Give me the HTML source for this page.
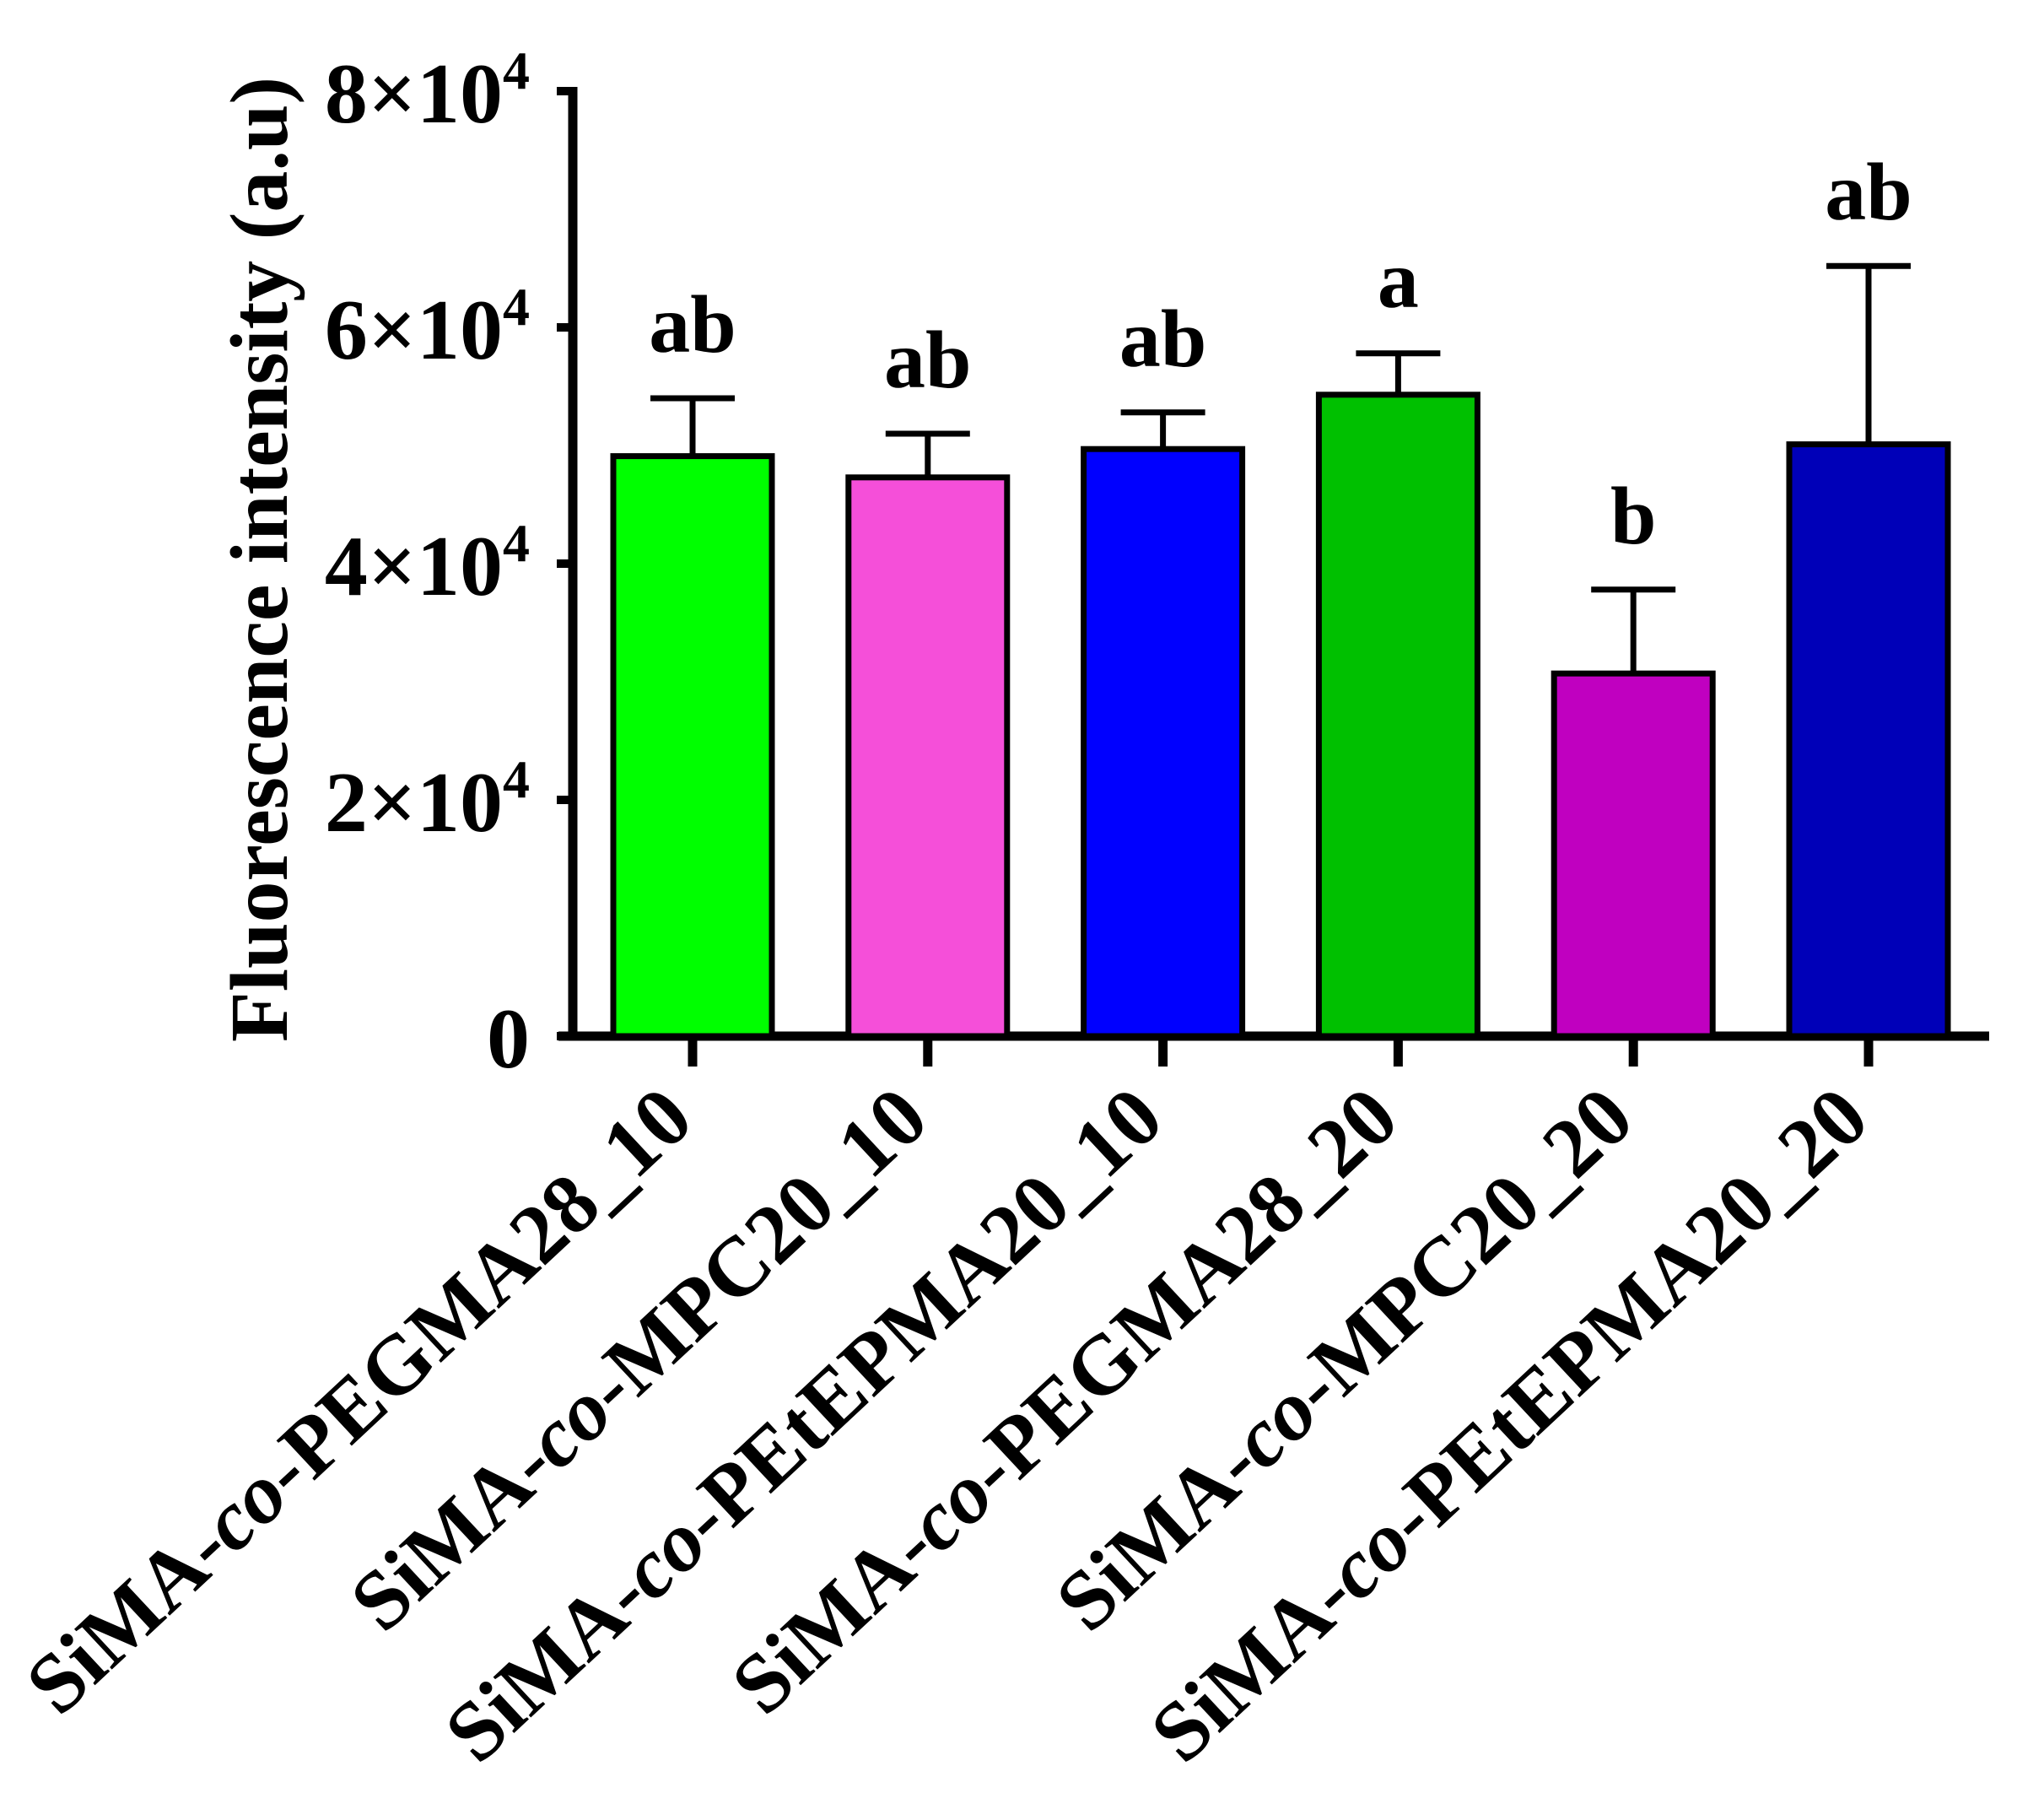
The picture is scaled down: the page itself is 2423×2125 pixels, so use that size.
<!DOCTYPE html>
<html><head><meta charset="utf-8"><style>
html,body{margin:0;padding:0;background:#fff}
svg{display:block}
text{font-family:"Liberation Serif","Times New Roman",serif;font-weight:bold;fill:#000}
</style></head><body>
<svg id="chart" width="2423" height="2125" viewBox="0 0 2423 2125" xmlns="http://www.w3.org/2000/svg">
<g id="axes"></g><g id="bars"></g><g id="labels"></g>
<text transform="translate(340,663) rotate(-90)" text-anchor="middle" font-size="98">Fluorescence intensity (a.u)</text>
</svg>
<script>
const categories = ["PEGMA28_10","MPC20_10","PEtEPMA20_10","PEGMA28_20","MPC20_20","PEtEPMA20_20"];
const means = [49100, 47300, 49700, 54300, 30700, 50100];
const errTops = [54000, 51000, 52800, 57800, 37800, 65200];
const letters = ["ab","ab","ab","a","b","ab"];
const colors = ["#00ff00","#f54fd9","#0000ff","#00c000","#c000c0","#0000b8"];
const yTicks = [0, 20000, 40000, 60000, 80000];
const yTickMant = ["0","2","4","6","8"];

const NS="http://www.w3.org/2000/svg";
const X0=679, Y0=1228, YTOP=108, YMAX=80000;
const xEnd=2358, firstC=821, step=278.8, barW=188;
function y(v){return Y0-(v/YMAX)*(Y0-YTOP);}
function xc(i){return firstC+i*step;}
function mk(tag,attrs,parent){const e=document.createElementNS(NS,tag);for(const k in attrs)e.setAttribute(k,attrs[k]);parent.appendChild(e);return e;}
const axes=document.getElementById('axes'), bars=document.getElementById('bars'), labels=document.getElementById('labels');

categories.forEach((c,i)=>{
  const cx=xc(i);
  const r=mk('rect',{x:cx-barW/2,y:y(means[i]),width:barW,height:Y0-y(means[i]),fill:colors[i],stroke:'#000','stroke-width':7},bars);
  
  
  const l=mk('line',{x1:cx,x2:cx,y1:y(means[i]),y2:y(errTops[i]),stroke:'#000','stroke-width':7},bars);
  
  
  const cap=mk('line',{x1:cx-50,x2:cx+50,y1:y(errTops[i]),y2:y(errTops[i]),stroke:'#000','stroke-width':7},bars);
  
  
  const t=mk('text',{x:cx,y:y(errTops[i])-55,'text-anchor':'middle','font-size':98},labels);
  t.textContent=letters[i];
  
  
  const tk=mk('line',{x1:cx,x2:cx,y1:Y0,y2:Y0+36,stroke:'#000','stroke-width':11},axes);
  
  
  const ax=cx+5, ay=1332;
  const xl=mk('text',{x:0,y:0,'text-anchor':'end','font-size':100,transform:`translate(${ax},${ay}) rotate(-43)`},labels);
  
  
  const s1=mk('tspan',{},xl);s1.textContent='SiMA-';
  const s2=mk('tspan',{'font-style':'italic'},xl);s2.textContent='co';
  const s3=mk('tspan',{},xl);s3.textContent='-'+c;
});

const ya=mk('line',{x1:X0,x2:X0,y1:YTOP-5,y2:Y0+5,stroke:'#000','stroke-width':11},axes);


const xa=mk('line',{x1:662,x2:xEnd,y1:Y0,y2:Y0,stroke:'#000','stroke-width':11},axes);



yTicks.forEach((v,i)=>{
  const yy=y(v);
  const tk=mk('line',{x1:660,x2:X0,y1:yy,y2:yy,stroke:'#000','stroke-width':10},axes);
  
  
  const t=mk('text',{x:628,y:yy+37,'text-anchor':'end','font-size':102},labels);
  
  
  if(v===0){t.textContent='0';}
  else{
    const a=mk('tspan',{},t);a.textContent=yTickMant[i]+'×10';
    const b=mk('tspan',{'font-size':64,dy:-40},t);b.textContent='4';
  }
});
</script>
</body></html>
